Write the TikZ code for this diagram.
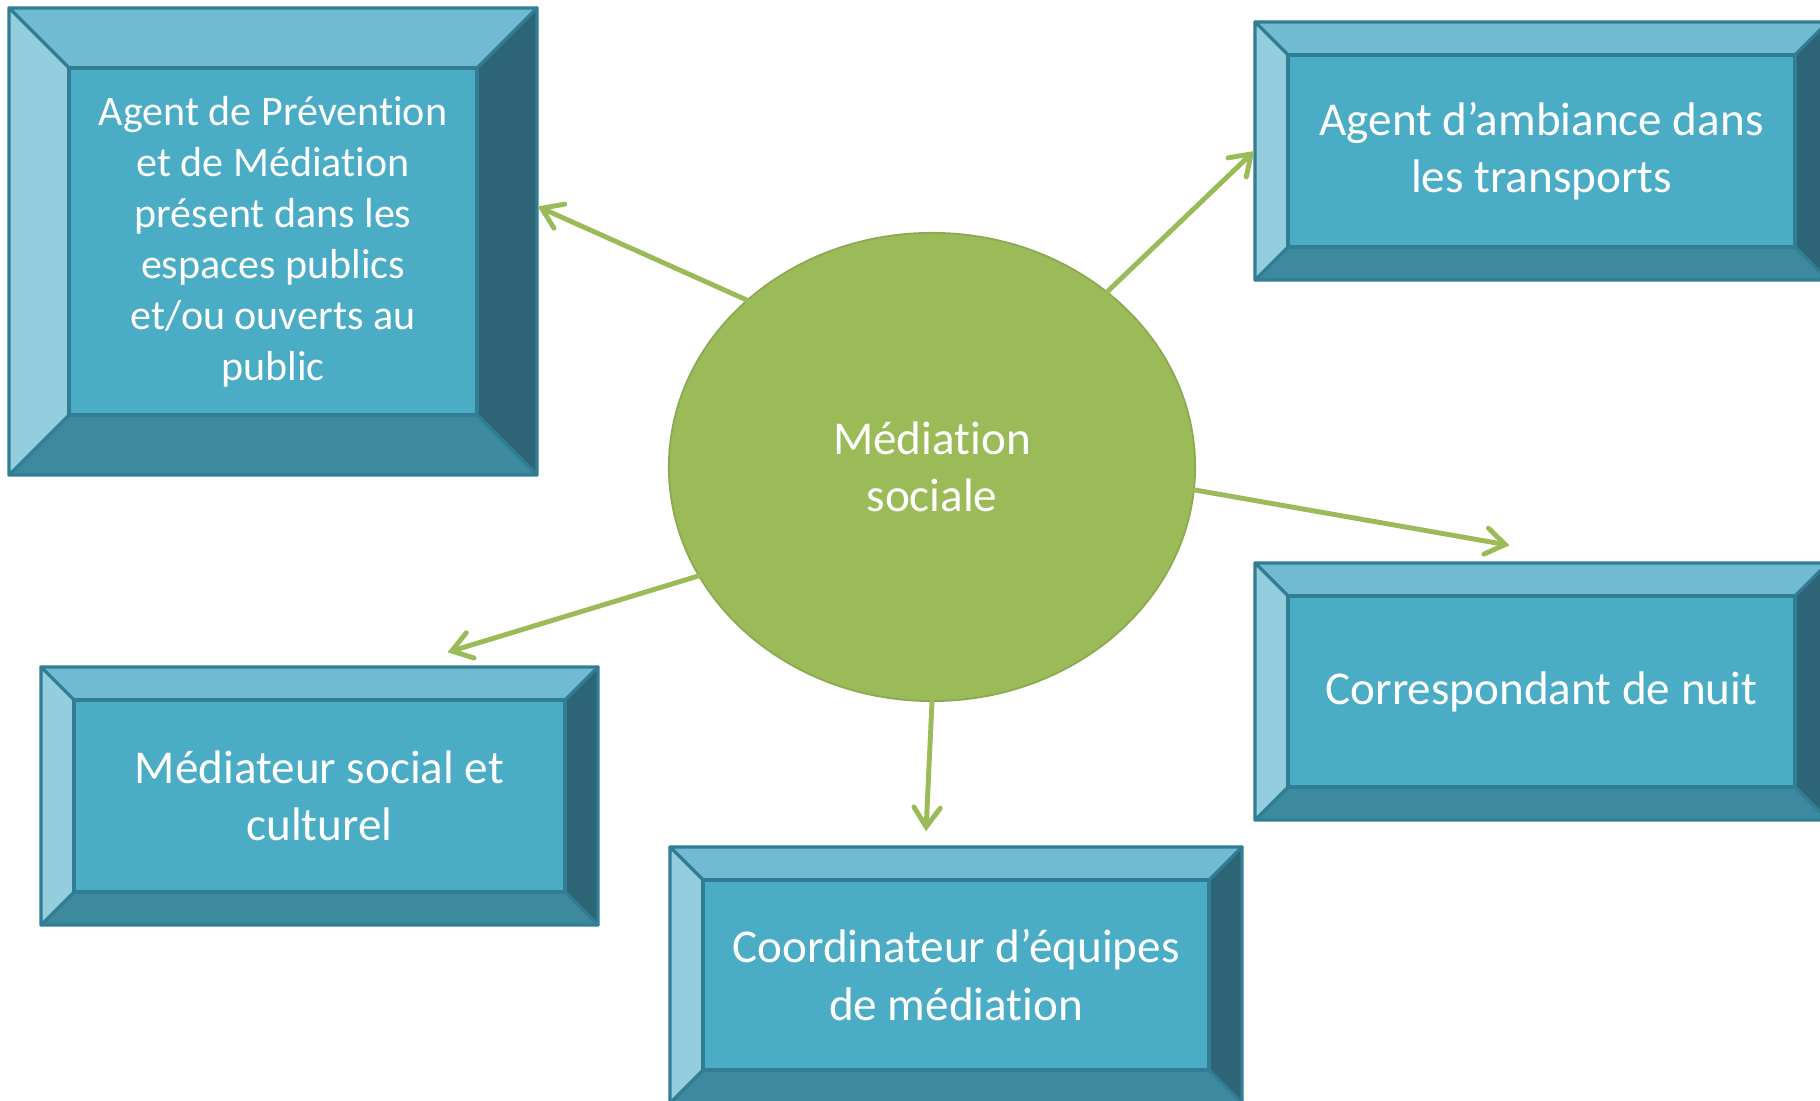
\documentclass[tikz,border=0pt]{standalone}
\usepackage{fontspec}
\setmainfont{Carlito}[Ligatures=NoCommon]
\usetikzlibrary{arrows.meta,calc,fit,shapes.geometric}

\definecolor{facecol}{HTML}{4BACC6}
\definecolor{toplight}{HTML}{70BAD2}
\definecolor{leftlight}{HTML}{94CDDD}
\definecolor{rightdark}{HTML}{2D6576}
\definecolor{botdark}{HTML}{3D899E}
\definecolor{edgecol}{HTML}{317D94}
\definecolor{medgreen}{HTML}{9BBB59}
\definecolor{medrim}{HTML}{8CA851}

\tikzset{
  bevel/.style={draw=edgecol, line width=0.9pt, line join=round},
  big text/.style={text=white, align=center, font=\fontsize{13.4}{16.3}\selectfont},
  small text/.style={text=white, align=center, font=\fontsize{11.95}{14.5}\selectfont},
  link/.style={draw=medgreen, line width=1.4pt, line cap=round,
    -{Straight Barb[length=5.5pt,width=7.5pt,line cap=round]}},
}

% bevelled box: name, left, top, right, bottom, bevel, text style, text
\newcommand{\bevbox}[8]{%
  \coordinate (#1-a) at (#2,#3);
  \coordinate (#1-b) at (#4,#5);
  \coordinate (#1-c) at ({#2+#6},{#3+#6});
  \coordinate (#1-d) at ({#4-#6},{#5-#6});
  \filldraw[bevel, fill=toplight] (#1-a) -- (#1-b |- #1-a) -- (#1-d |- #1-c) -- (#1-c) -- cycle;
  \filldraw[bevel, fill=rightdark] (#1-b |- #1-a) -- (#1-b) -- (#1-d) -- (#1-d |- #1-c) -- cycle;
  \filldraw[bevel, fill=botdark] (#1-b) -- (#1-a |- #1-b) -- (#1-c |- #1-d) -- (#1-d) -- cycle;
  \filldraw[bevel, fill=leftlight] (#1-a |- #1-b) -- (#1-a) -- (#1-c) -- (#1-c |- #1-d) -- cycle;
  \filldraw[bevel, fill=facecol] (#1-c) rectangle (#1-d);
  \node[fit=(#1-a)(#1-b), inner sep=0pt] (#1) {};
  \node[#7] (#1-txt) at (#1.center) {#8};
}

\begin{document}
\begin{tikzpicture}[x=0.01cm,y=-0.01cm]
  \useasboundingbox (0,0) rectangle (1820,1101);

  \bevbox{prev}{9}{8}{537}{475}{60}{small text}{Agent de Prévention\\et de Médiation\\présent dans les\\espaces publics\\et/ou ouverts au\\public}
  \bevbox{ambi}{1255}{22}{1828}{280}{33}{big text}{Agent d’ambiance dans\\les transports}
  \bevbox{nuit}{1255}{563}{1828}{820}{33}{big text}{Correspondant de nuit}
  \bevbox{equipes}{670}{847}{1242}{1103}{33}{big text}{Coordinateur d’équipes\\de médiation}
  \bevbox{medi}{41}{667}{598}{925}{33}{big text}{Médiateur social et\\culturel}

  \node[ellipse, minimum width=5.26cm, minimum height=4.68cm, inner sep=0pt,
        draw=medrim, line width=0.5pt, fill=medgreen, big text] (med) at (932,467) {Médiation\\sociale};

  \draw[link] (med.138) -- ($(prev.east)+(0,-35)$);
  \draw[link] (med.45) -- (ambi.west);
  \draw[link] (med.-5) -- ($(nuit.north)+(-32,-17)$);
  \draw[link] (med.south) -- ($(equipes.north)+(-30,-15)$);
  \draw[link] (med.205) -- ($(medi.north)+(128,-14)$);
\end{tikzpicture}
\end{document}
